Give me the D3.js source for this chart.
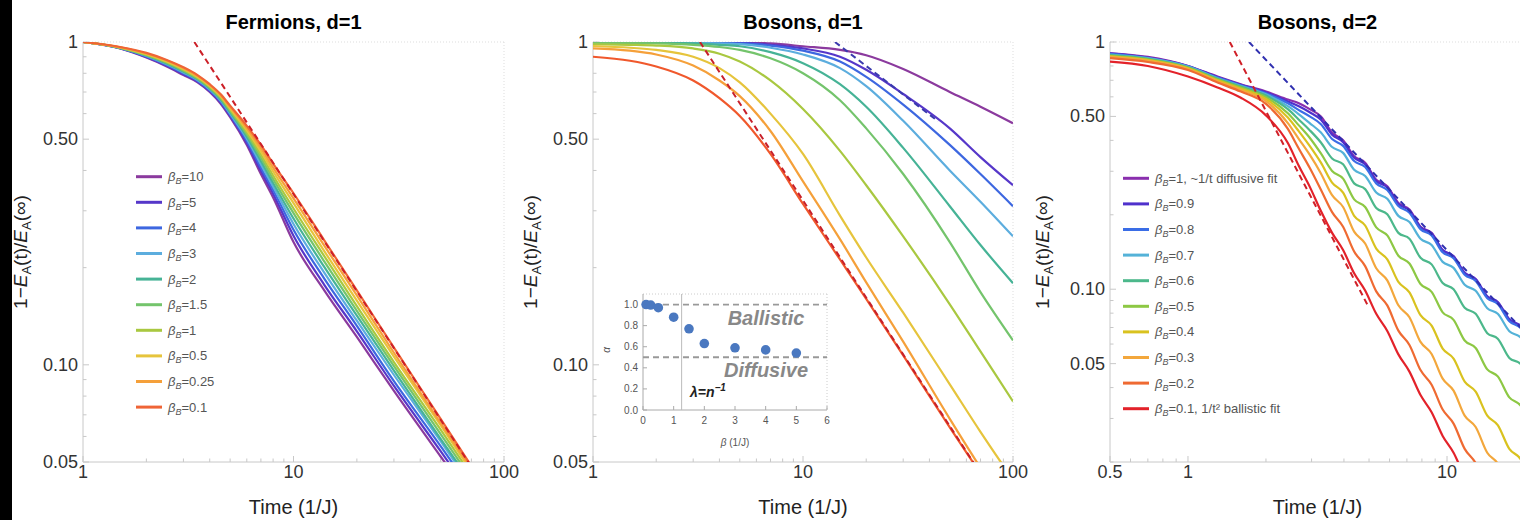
<!DOCTYPE html>
<html>
<head>
<meta charset="utf-8">
<script src="https://cdn.jsdelivr.net/npm/d3@7"></script>
<style>
  body { margin: 0; background: #fff; }
  svg { display: block; font-family: "Liberation Sans", Arial, sans-serif; }
</style>
</head>
<body>
<div id="chart"></div>
<script>
const W = 1520, H = 520;
const top0 = 42, bottom0 = 462;

// ---------- Fermions, d=1 ----------
const fermiBetas = ["10", "5", "4", "3", "2", "1.5", "1", "0.5", "0.25", "0.1"];
const fermiColors = ["#8b3a9e", "#5637c9", "#3d67e0", "#5cadde", "#46b396", "#74c46c", "#a9c840", "#e6c43c", "#f5a03a", "#ef6436"];
const fermiTimes = [1, 1.5, 2, 2.5, 3, 3.5, 4, 4.5, 5, 6, 7, 8, 10, 14, 20, 30, 50, 80];
const fermiValues = [
  [1, .955, .895, .84, .79, .75, .70, .645, .585, .48, .39, .33, .24, .17, .122, .083, .052, .034],
  [1, .956, .898, .844, .795, .754, .704, .650, .590, .487, .399, .339, .251, .177, .127, .086, .054, .035],
  [1, .957, .902, .849, .8, .758, .709, .655, .595, .494, .408, .348, .262, .185, .132, .089, .056, .036],
  [1, .958, .905, .853, .805, .762, .713, .660, .600, .502, .418, .357, .273, .193, .137, .093, .058, .037],
  [1, .959, .908, .858, .81, .767, .718, .665, .606, .509, .428, .366, .284, .201, .142, .096, .059, .038],
  [1, .96, .911, .862, .815, .771, .722, .670, .612, .517, .438, .376, .295, .209, .147, .099, .061, .039],
  [1, .961, .914, .867, .82, .776, .727, .675, .618, .525, .448, .386, .305, .217, .152, .102, .063, .04],
  [1, .962, .918, .871, .825, .780, .731, .680, .623, .533, .458, .397, .317, .225, .158, .106, .065, .041],
  [1, .963, .921, .876, .83, .785, .736, .685, .629, .541, .469, .408, .328, .234, .164, .109, .066, .042],
  [1, .965, .925, .88, .835, .79, .74, .69, .635, .55, .48, .42, .34, .243, .17, .113, .068, .0425]
];
const fermiFitT = [3.38, 100], fermiFitV = [1, 0.0338];

// ---------- Bosons, d=1 ----------
const boson1Colors = ["#8b3a9e", "#5637c9", "#3d67e0", "#5cadde", "#46b396", "#74c46c", "#a9c840", "#e6c43c", "#f5a03a", "#f0582c"];
const boson1Times = [1, 1.5, 2, 3, 4, 5, 7, 10, 15, 20, 30, 50, 70, 100];
const boson1Values = [
  [1, 1, 1, 1, 1, .998, .99, .97, .945, .91, .825, .70, .63, .56],
  [1, 1, 1, .999, .997, .995, .98, .955, .90, .82, .69, .54, .44, .36],
  [1, 1, .999, .998, .995, .99, .975, .94, .87, .78, .64, .48, .39, .31],
  [.999, .999, .998, .995, .99, .985, .96, .915, .83, .73, .57, .40, .32, .25],
  [.998, .997, .996, .99, .98, .97, .93, .86, .74, .63, .47, .31, .235, .179],
  [.995, .993, .99, .98, .965, .945, .89, .80, .66, .54, .39, .24, .168, .119],
  [.984, .98, .975, .955, .92, .87, .76, .62, .46, .36, .25, .154, .11, .077],
  [.972, .96, .945, .90, .83, .75, .60, .45, .29, .215, .145, .087, .062, .044],
  [.956, .94, .915, .845, .76, .68, .53, .37, .245, .18, .118, .068, .048, .034],
  [.90, .875, .84, .76, .67, .59, .45, .315, .212, .16, .107, .064, .046, .032]
];
const boson1BallisticT = [3.23, 100], boson1BallisticV = [1, 0.0323];
const boson1DiffusiveT = [14.2, 44], boson1DiffusiveV = [1, 0.568];

// inset: exponent alpha vs beta
const insetBeta = [0.1, 0.25, 0.5, 1, 1.5, 2, 3, 4, 5];
const insetAlpha = [1.0, 0.995, 0.97, 0.88, 0.77, 0.63, 0.59, 0.57, 0.54];
const insetRefLines = [1.0, 0.5];
const insetLambdaBeta = 1.26;

// ---------- Bosons, d=2 ----------
const boson2Betas = ["1", "0.9", "0.8", "0.7", "0.6", "0.5", "0.4", "0.3", "0.2", "0.1"];
const boson2Notes = [", ~1/t diffusive fit", "", "", "", "", "", "", "", "", ", 1/t\u00b2 ballistic fit"];
const boson2Colors = ["#8a2fae", "#4f31cc", "#3a6de6", "#54b2d8", "#4cb88b", "#8dc844", "#d9c21f", "#f3a73c", "#ef6a32", "#e3222a"];
const boson2Times = [0.5, 0.7, 1, 1.3, 1.6, 2, 2.43, 2.68, 2.95, 3.26, 3.6, 3.97, 4.38, 4.83, 5.33, 5.88, 6.49, 7.16, 7.9, 8.72, 9.62, 10.6, 11.7, 12.9, 14.3, 15.7, 17.4, 19.2, 21.2];
const boson2Values = [
  [0.90, 0.87, 0.80, 0.725, 0.675, 0.63, 0.585, 0.565, 0.535, 0.50, 0.43, 0.40, 0.345, 0.325, 0.277, 0.261, 0.223, 0.21, 0.179, 0.169, 0.144, 0.136, 0.1163, 0.1097, 0.0932, 0.0884, 0.0751, 0.0707, 0.0604],
  [0.90, 0.865, 0.80, 0.722, 0.672, 0.625, 0.575, 0.55, 0.52, 0.485, 0.422, 0.393, 0.34, 0.32, 0.274, 0.258, 0.221, 0.208, 0.178, 0.168, 0.144, 0.136, 0.1165, 0.110, 0.0936, 0.0888, 0.0756, 0.0712, 0.061],
  [0.895, 0.86, 0.795, 0.718, 0.668, 0.62, 0.565, 0.53, 0.50, 0.465, 0.405, 0.38, 0.33, 0.312, 0.268, 0.252, 0.217, 0.204, 0.175, 0.165, 0.141, 0.1335, 0.1145, 0.108, 0.092, 0.0872, 0.0742, 0.0698, 0.0598],
  [0.89, 0.86, 0.795, 0.714, 0.664, 0.614, 0.55, 0.51, 0.47, 0.43, 0.376, 0.356, 0.304, 0.287, 0.246, 0.232, 0.198, 0.187, 0.160, 0.151, 0.129, 0.122, 0.1042, 0.0985, 0.0838, 0.0795, 0.0676, 0.0639, 0.0545],
  [0.885, 0.855, 0.79, 0.71, 0.66, 0.607, 0.535, 0.485, 0.44, 0.392, 0.338, 0.320, 0.268, 0.254, 0.213, 0.201, 0.169, 0.160, 0.134, 0.126, 0.106, 0.100, 0.0842, 0.0796, 0.0664, 0.0631, 0.0527, 0.0499, 0.0417],
  [0.88, 0.85, 0.787, 0.705, 0.654, 0.598, 0.515, 0.46, 0.41, 0.354, 0.301, 0.280, 0.231, 0.215, 0.178, 0.165, 0.1366, 0.127, 0.105, 0.0976, 0.0806, 0.0752, 0.062, 0.0578, 0.0474, 0.0444, 0.0365, 0.0339, 0.0279],
  [0.875, 0.845, 0.783, 0.70, 0.647, 0.588, 0.495, 0.435, 0.38, 0.325, 0.270, 0.246, 0.198, 0.181, 0.146, 0.132, 0.107, 0.097, 0.0785, 0.0713, 0.0575, 0.0524, 0.0423, 0.0385, 0.0308, 0.0282, 0.0226, 0.0206, 0.0166],
  [0.87, 0.84, 0.778, 0.694, 0.64, 0.577, 0.47, 0.405, 0.35, 0.294, 0.240, 0.215, 0.171, 0.153, 0.1215, 0.1086, 0.0861, 0.077, 0.0612, 0.0547, 0.0435, 0.0389, 0.0308, 0.0277, 0.0218, 0.0197, 0.0155, 0.0139, 0.011],
  [0.86, 0.83, 0.77, 0.686, 0.63, 0.562, 0.445, 0.37, 0.31, 0.2526, 0.205, 0.179, 0.142, 0.124, 0.098, 0.086, 0.068, 0.0595, 0.0471, 0.0411, 0.0326, 0.0286, 0.0226, 0.0198, 0.0155, 0.0136, 0.0107, 0.0094, 0.0075],
  [0.833, 0.80, 0.725, 0.655, 0.595, 0.505, 0.39, 0.315, 0.26, 0.207, 0.169, 0.144, 0.116, 0.0988, 0.0795, 0.0678, 0.0545, 0.0464, 0.0373, 0.0318, 0.0255, 0.0218, 0.0175, 0.0149, 0.012, 0.0102, 0.0084, 0.007, 0.0058]
];
const boson2BallisticT = [1.45, 5], boson2BallisticV = [1, 0.0841];
const boson2DiffusiveT = [1.72, 20], boson2DiffusiveV = [1, 0.067];

// tick labels
const yTicks1 = [1, 0.5, 0.1, 0.05], yTickLabels1 = ["1", "0.50", "0.10", "0.05"];
const xTicks1 = [1, 10, 100], xTickLabels1 = ["1", "10", "100"];
const xTicks3 = [0.5, 1, 10], xTickLabels3 = ["0.5", "1", "10"];

const svg = d3.select("#chart").append("svg")
  .attr("width", W).attr("height", H);

svg.append("rect").attr("x", 0).attr("y", 0).attr("width", 12).attr("height", H).attr("fill", "#000");

function yLabel(g, cx, cy) {
  const t = g.append("text")
    .attr("transform", `translate(${cx},${cy})rotate(-90)`)
    .attr("text-anchor", "middle")
    .attr("font-size", 19).attr("fill", "#222");
  t.append("tspan").text("1\u2212");
  t.append("tspan").attr("font-style", "italic").text("E");
  t.append("tspan").attr("font-size", 13).attr("dy", 4).text("A");
  t.append("tspan").attr("dy", -4).text("(t)/");
  t.append("tspan").attr("font-style", "italic").text("E");
  t.append("tspan").attr("font-size", 13).attr("dy", 4).text("A");
  t.append("tspan").attr("dy", -4).text("(\u221e)");
}

function betaText(t, value, note) {
  t.append("tspan").attr("font-style", "italic").text("\u03b2");
  t.append("tspan").attr("font-style", "italic").attr("font-size", 9).attr("dy", 3).text("B");
  t.append("tspan").attr("dy", -3).text("=" + value + (note || ""));
}

let clipId = 0;
function panel(cfg) {
  const x = d3.scaleLog().domain(cfg.xDomain).range(cfg.xRange);
  const y = d3.scaleLog().domain(cfg.yDomain).range([bottom0, top0]);
  const g = svg.append("g");
  const [x0, x1] = cfg.xRange;

  const id = "clip" + (clipId++);
  g.append("clipPath").attr("id", id).append("rect")
    .attr("x", x0).attr("y", top0).attr("width", x1 - x0).attr("height", bottom0 - top0);

  // frame
  g.append("line").attr("x1", x0).attr("x2", x1).attr("y1", top0).attr("y2", top0)
    .attr("stroke", "#ddd").attr("stroke-dasharray", "1,2");
  g.append("line").attr("x1", x1).attr("x2", x1).attr("y1", top0).attr("y2", bottom0)
    .attr("stroke", "#ddd").attr("stroke-dasharray", "1,2");
  g.append("line").attr("x1", x0).attr("x2", x1).attr("y1", bottom0).attr("y2", bottom0)
    .attr("stroke", "#c8c8c8");
  g.append("line").attr("x1", x0).attr("x2", x0).attr("y1", top0).attr("y2", bottom0)
    .attr("stroke", "#c8c8c8");

  // minor + major ticks
  x.ticks().forEach(v => {
    const major = cfg.xTicks.includes(v);
    g.append("line").attr("x1", x(v)).attr("x2", x(v))
      .attr("y1", bottom0).attr("y2", bottom0 - (major ? 6 : 3.5))
      .attr("stroke", "#c8c8c8");
  });
  y.ticks().forEach(v => {
    const major = yTicks1.some(m => Math.abs(m - v) < 1e-9);
    g.append("line").attr("y1", y(v)).attr("y2", y(v))
      .attr("x1", x0).attr("x2", x0 + (major ? 6 : 3.5))
      .attr("stroke", "#c8c8c8");
  });

  g.selectAll(".xt").data(cfg.xTicks).join("text")
    .attr("x", d => x(d)).attr("y", 478)
    .attr("text-anchor", "middle").attr("font-size", 18).attr("fill", "#333")
    .text((d, i) => cfg.xTickLabels[i]);
  g.selectAll(".yt").data(yTicks1).join("text")
    .attr("x", x0 - 5).attr("y", d => y(d) + 6)
    .attr("text-anchor", "end").attr("font-size", 18).attr("fill", "#333")
    .text((d, i) => yTickLabels1[i]);

  g.append("text").attr("x", (x0 + x1) / 2).attr("y", 29)
    .attr("text-anchor", "middle").attr("font-size", 20).attr("font-weight", "bold")
    .text(cfg.title);
  g.append("text").attr("x", (x0 + x1) / 2).attr("y", 514)
    .attr("text-anchor", "middle").attr("font-size", 20).attr("fill", "#222")
    .text("Time (1/J)");
  yLabel(g, cfg.yLabelX, 252);

  const line = d3.line().x(d => x(d[0])).y(d => y(d[1])).curve(d3.curveMonotoneX);
  const plot = g.append("g").attr("clip-path", `url(#${id})`);

  plot.selectAll(".curve").data(cfg.values).join("path")
    .attr("fill", "none")
    .attr("stroke", (d, i) => cfg.colors[i])
    .attr("stroke-width", 2.2)
    .attr("d", d => line(d3.zip(cfg.times, d)));

  (cfg.fits || []).forEach(f => {
    plot.append("path")
      .attr("fill", "none").attr("stroke", f.color).attr("stroke-width", 2)
      .attr("stroke-dasharray", "6,4")
      .attr("d", d3.line().x(d => x(d[0])).y(d => y(d[1]))(d3.zip(f.t, f.v)));
  });

  return { x, y, g };
}

function legend(labels, colors, notes, lx, ly) {
  const g = svg.append("g");
  labels.forEach((b, i) => {
    const yy = ly + i * 25.6;
    g.append("line").attr("x1", lx).attr("x2", lx + 26).attr("y1", yy).attr("y2", yy)
      .attr("stroke", colors[i]).attr("stroke-width", 3);
    const t = g.append("text").attr("x", lx + 32).attr("y", yy + 4.5)
      .attr("font-size", 13).attr("fill", "#555");
    betaText(t, b, notes ? notes[i] : "");
  });
}

// panel 1
panel({
  title: "Fermions, d=1", xDomain: [1, 100], xRange: [83, 504],
  yDomain: [0.05, 1], xTicks: xTicks1, xTickLabels: xTickLabels1, yLabelX: 27,
  times: fermiTimes, values: fermiValues, colors: fermiColors,
  fits: [{ t: fermiFitT, v: fermiFitV, color: "#cc2028" }]
});
legend(fermiBetas, fermiColors, null, 136, 176.7);

// panel 2
panel({
  title: "Bosons, d=1", xDomain: [1, 100], xRange: [593, 1013],
  yDomain: [0.05, 1], xTicks: xTicks1, xTickLabels: xTickLabels1, yLabelX: 537,
  times: boson1Times, values: boson1Values, colors: boson1Colors,
  fits: [
    { t: boson1BallisticT, v: boson1BallisticV, color: "#c8202a" },
    { t: boson1DiffusiveT, v: boson1DiffusiveV, color: "#3a3aae" }
  ]
});

// inset
(function () {
  const ix = d3.scaleLinear().domain([0, 6]).range([643, 827]);
  const iy = d3.scaleLinear().domain([0, 1.1]).range([410, 294]);
  const g = svg.append("g");
  g.append("line").attr("x1", 643).attr("x2", 827).attr("y1", 294).attr("y2", 294)
    .attr("stroke", "#ccc").attr("stroke-dasharray", "1,2");
  g.append("line").attr("x1", 827).attr("x2", 827).attr("y1", 294).attr("y2", 410)
    .attr("stroke", "#ccc").attr("stroke-dasharray", "1,2");
  g.append("line").attr("x1", 643).attr("x2", 827).attr("y1", 410).attr("y2", 410)
    .attr("stroke", "#aaa");
  g.append("line").attr("x1", 643).attr("x2", 643).attr("y1", 294).attr("y2", 410)
    .attr("stroke", "#aaa");

  g.selectAll(".ixt").data(d3.range(0, 7)).join("text")
    .attr("x", d => ix(d)).attr("y", 424).attr("text-anchor", "middle")
    .attr("font-size", 10).attr("fill", "#555").text(d => d);
  g.selectAll(".iyt").data(d3.range(0, 1.01, 0.2)).join("text")
    .attr("x", 638).attr("y", d => iy(d) + 3.5).attr("text-anchor", "end")
    .attr("font-size", 10).attr("fill", "#555").text(d => d.toFixed(1));
  g.selectAll(".ixm").data(d3.range(0, 7)).join("line")
    .attr("x1", d => ix(d)).attr("x2", d => ix(d)).attr("y1", 410).attr("y2", 406)
    .attr("stroke", "#aaa");
  g.selectAll(".iym").data(d3.range(0, 1.01, 0.2)).join("line")
    .attr("x1", 643).attr("x2", 647).attr("y1", d => iy(d)).attr("y2", d => iy(d))
    .attr("stroke", "#aaa");

  const xl = g.append("text").attr("x", 735).attr("y", 446).attr("text-anchor", "middle")
    .attr("font-size", 10).attr("fill", "#555");
  xl.append("tspan").attr("font-style", "italic").text("\u03b2");
  xl.append("tspan").text(" (1/J)");
  g.append("text").attr("transform", "translate(610,350)rotate(-90)")
    .attr("text-anchor", "middle").attr("font-size", 10).attr("font-style", "italic")
    .attr("fill", "#555").text("\u03b1");

  g.append("line").attr("x1", ix(insetLambdaBeta)).attr("x2", ix(insetLambdaBeta))
    .attr("y1", 294).attr("y2", 410).attr("stroke", "#bbb");
  insetRefLines.forEach(a => {
    g.append("line").attr("x1", 643).attr("x2", 827).attr("y1", iy(a)).attr("y2", iy(a))
      .attr("stroke", "#999").attr("stroke-width", 1.8).attr("stroke-dasharray", "6,4");
  });

  g.append("text").attr("x", 766).attr("y", 325).attr("text-anchor", "middle")
    .attr("font-size", 20).attr("font-weight", "bold").attr("font-style", "italic")
    .attr("fill", "#888").text("Ballistic");
  g.append("text").attr("x", 766).attr("y", 377).attr("text-anchor", "middle")
    .attr("font-size", 20).attr("font-weight", "bold").attr("font-style", "italic")
    .attr("fill", "#888").text("Diffusive");
  const lam = g.append("text").attr("x", 690).attr("y", 397)
    .attr("font-size", 14).attr("font-weight", "bold").attr("font-style", "italic")
    .attr("fill", "#222");
  lam.append("tspan").text("\u03bb=n");
  lam.append("tspan").attr("font-size", 10).attr("dy", -6).text("\u22121");

  g.selectAll(".dot").data(d3.zip(insetBeta, insetAlpha)).join("circle")
    .attr("cx", d => ix(d[0])).attr("cy", d => iy(d[1])).attr("r", 4.8)
    .attr("fill", "#4a78c0");
})();

// panel 3
panel({
  title: "Bosons, d=2", xDomain: [0.5, 20], xRange: [1110, 1525],
  yDomain: [0.02, 1], xTicks: xTicks3, xTickLabels: xTickLabels3, yLabelX: 1049,
  times: boson2Times, values: boson2Values, colors: boson2Colors,
  fits: [
    { t: boson2BallisticT, v: boson2BallisticV, color: "#d02028" },
    { t: boson2DiffusiveT, v: boson2DiffusiveV, color: "#3030b0" }
  ]
});
legend(boson2Betas, boson2Colors, boson2Notes, 1123, 178.3);
</script>
</body>
</html>
